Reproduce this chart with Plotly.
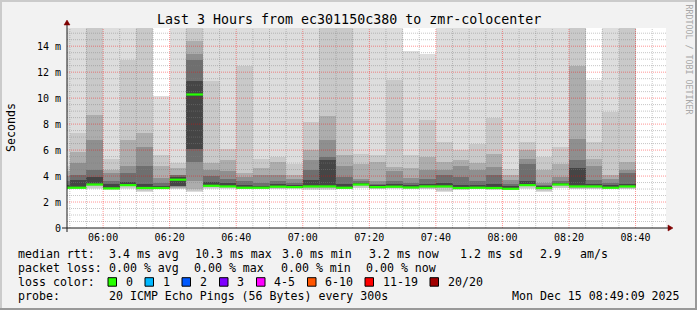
import pandas as pd
import plotly.graph_objects as go

DAY = "2025-12-15 "
T0, T1 = DAY + "05:49:09", DAY + "08:49:09"
Y_MAX = 15.4

# 5-minute RRD steps (end time of each step)
bar_end = ["05:50", "05:55", "06:00", "06:05", "06:10", "06:15", "06:20", "06:25", "06:30",
           "06:35", "06:40", "06:45", "06:50", "06:55", "07:00", "07:05", "07:10", "07:15",
           "07:20", "07:25", "07:30", "07:35", "07:40", "07:45", "07:50", "07:55", "08:00",
           "08:05", "08:10", "08:15", "08:20", "08:25", "08:30", "08:35", "08:40"]

# median rtt (ms)
median = [3.1, 3.1, 3.35, 3.05, 3.3, 3.08, 3.08, 3.72, 10.28, 3.25, 3.2, 3.1, 3.1, 3.18, 3.15,
          3.2, 3.2, 3.1, 3.35, 3.15, 3.18, 3.12, 3.2, 3.2, 3.08, 3.1, 3.08, 3.02, 3.3, 3.08,
          3.35, 3.2, 3.2, 3.1, 3.2]

# smoke bands (outer -> inner), upper edges (ms)
hi1 = [16, 16, 16, 16, 16, 16, 10.2, 16, 16, 16, 16, 16, 16, 16, 16, 16, 16, 16, 16, 16, 16,
       13.6, 13.4, 16, 16, 16, 16, 16, 16, 16, 16, 16, 11.36, 16, 16]
hi2 = [4.8, 7.33, 16, 5.3, 12.95, 16, 5.65, 5.0, 16, 11.3, 6.1, 12.5, 5.3, 5.45, 4.95, 8.15,
       16, 16, 5.7, 5.6, 11.36, 5.6, 8.3, 6.6, 5.97, 6.5, 8.48, 4.55, 6.6, 5.5, 6.2, 16, 6.6,
       8.9, 16]
hi3 = [4.4, 5.85, 8.73, 4.5, 6.8, 7.3, 4.75, 4.6, 14.4, 5.0, 5.2, 4.25, 4.6, 5.1, 4.1, 5.97,
       8.6, 5.6, 4.95, 5.05, 4.7, 4.6, 5.45, 5.05, 5.2, 5.0, 5.7, 4.05, 5.97, 4.45, 4.95, 12.5,
       5.3, 4.05, 5.1]
hi4 = [4.0, 5.02, 6.8, 4.2, 4.75, 6.25, 3.85, 4.1, 13.4, 4.5, 4.4, 3.9, 4.05, 4.05, 3.75, 5.2,
       6.74, 4.75, 3.8, 3.65, 4.4, 3.85, 4.45, 4.45, 4.8, 4.45, 4.7, 3.7, 5.3, 3.5, 3.9, 6.87,
       4.75, 3.8, 4.45]
hi5 = [3.6, 4.05, 4.5, 3.6, 4.2, 4.74, 3.46, 4.1, 12.9, 4.0, 3.8, 3.6, 3.5, 3.6, 3.45, 4.43,
       5.5, 3.9, 3.6, 3.4, 3.6, 3.45, 3.8, 4.05, 3.9, 3.65, 4.05, 3.4, 4.95, 3.3, 3.6, 5.2,
       3.7, 3.45, 4.2]
hi6 = [3.3, 3.66, 3.9, 3.35, 3.55, 3.35, 3.2, 3.9, 11.3, 3.55, 3.45, 3.3, 3.25, 3.35, 3.3,
       3.66, 5.2, 3.4, 3.45, 3.3, 3.35, 3.3, 3.4, 3.5, 3.3, 3.3, 3.4, 3.2, 3.6, 3.2, 3.45, 4.6,
       3.4, 3.3, 3.4]
# lower edges (ms)
lo1 = [2.97, 2.97, 3.0, 2.95, 3.0, 2.75, 2.97, 2.97, 2.75, 3.0, 3.0, 2.97, 2.97, 2.97, 3.0,
       2.9, 2.9, 2.97, 3.05, 2.97, 3.0, 2.97, 2.97, 2.77, 2.95, 2.97, 2.95, 2.9, 3.0, 2.77,
       3.05, 2.97, 2.97, 2.97, 2.97]
lo2 = [3.0, 3.0, 3.05, 2.98, 3.05, 2.85, 3.0, 3.0, 2.85, 3.05, 3.05, 3.0, 3.0, 3.02, 3.05,
       2.97, 2.97, 3.0, 3.1, 3.02, 3.05, 3.0, 3.02, 2.87, 2.98, 3.0, 2.98, 2.95, 3.05, 2.87,
       3.1, 3.02, 3.02, 3.0, 3.02]
lo3 = [3.05, 3.05, 3.25, 3.0, 3.2, 3.0, 3.03, 3.1, 3.0, 3.15, 3.12, 3.05, 3.05, 3.1, 3.1,
       3.1, 3.1, 3.05, 3.25, 3.1, 3.1, 3.05, 3.1, 3.05, 3.02, 3.05, 3.02, 2.98, 3.2, 3.0,
       3.25, 3.1, 3.1, 3.05, 3.1]
lo4 = [3.08, 3.08, 3.3, 3.03, 3.25, 3.04, 3.05, 3.15, 3.6, 3.2, 3.16, 3.08, 3.08, 3.14, 3.12,
       3.15, 3.15, 3.08, 3.3, 3.12, 3.14, 3.08, 3.15, 3.12, 3.05, 3.08, 3.05, 3.0, 3.25, 3.04,
       3.3, 3.15, 3.15, 3.08, 3.15]
lo5 = [3.1, 3.1, 3.33, 3.05, 3.28, 3.06, 3.07, 3.2, 5.05, 3.23, 3.18, 3.1, 3.1, 3.16, 3.14,
       3.18, 3.2, 3.1, 3.33, 3.14, 3.16, 3.1, 3.18, 3.16, 3.07, 3.1, 3.07, 3.02, 3.28, 3.06,
       3.33, 3.18, 3.18, 3.1, 3.18]
lo6 = [3.1, 3.1, 3.35, 3.05, 3.3, 3.08, 3.08, 3.25, 6.08, 3.25, 3.2, 3.1, 3.1, 3.18, 3.15,
       3.2, 3.2, 3.1, 3.35, 3.15, 3.18, 3.12, 3.2, 3.2, 3.08, 3.1, 3.08, 3.02, 3.3, 3.08,
       3.35, 3.2, 3.2, 3.1, 3.2]
smoke_colors = ["#dddddd", "#c9c9c9", "#adadad", "#8f8f8f", "#6f6f6f", "#454545"]

x_tick_labels = ["06:00", "06:20", "06:40", "07:00", "07:20", "07:40", "08:00", "08:20", "08:40"]
x_minor_times = ["05:50", "05:55", "06:05", "06:10", "06:15", "06:25", "06:30", "06:35",
                 "06:45", "06:50", "06:55", "07:05", "07:10", "07:15", "07:25", "07:30",
                 "07:35", "07:45", "07:50", "07:55", "08:05", "08:10", "08:15", "08:25",
                 "08:30", "08:35", "08:45"]
y_tick_vals = [0, 2, 4, 6, 8, 10, 12, 14]
y_tick_text = ["0", "2 m", "4 m", "6 m", "8 m", "10 m", "12 m", "14 m"]
y_major_grid = [2, 4, 6, 8, 10, 12, 14]
y_minor_grid = [v / 2 for v in range(1, 31) if v % 4 != 0]

loss_labels = ["0", "1", "2", "3", "4-5", "6-10", "11-19", "20/20"]
loss_colors = ["#26ff00", "#00b8ff", "#0059ff", "#7e00ff", "#ff00ff", "#ff5500", "#ff0000", "#a10000"]

# ---------------------------------------------------------------- layout geometry (px)
W, H = 697, 310
L, R, T, B = 67, 666, 28, 228
PW, PH = R - L, B - T


def px(x):
    return (x - L) / PW


def py(y):
    return (B - y) / PH


MONO = "DejaVu Sans Mono"

ends = pd.to_datetime([DAY + t for t in bar_end])
starts = ends - pd.Timedelta(minutes=5)
centers = ends - pd.Timedelta(seconds=150)

fig = go.Figure()

his = [hi1, hi2, hi3, hi4, hi5, hi6]
los = [lo1, lo2, lo3, lo4, lo5, lo6]
for hi, lo, col in zip(his, los, smoke_colors):
    fig.add_trace(go.Bar(
        x=centers, y=[h - l for h, l in zip(hi, lo)], base=lo, width=300000,
        marker=dict(color=col, line=dict(width=0)), hoverinfo="skip", showlegend=False))

# grid (drawn over the smoke, like rrdtool)
def hgrid(vals, color):
    xs, ys = [], []
    for v in vals:
        xs += [T0, T1, None]
        ys += [v, v, None]
    fig.add_trace(go.Scatter(x=xs, y=ys, mode="lines", hoverinfo="skip", showlegend=False,
                             line=dict(color=color, width=1, dash="1px,1px")))


def vgrid(times, color):
    xs, ys = [], []
    for t in times:
        xs += [DAY + t, DAY + t, None]
        ys += [0, Y_MAX, None]
    fig.add_trace(go.Scatter(x=xs, y=ys, mode="lines", hoverinfo="skip", showlegend=False,
                             line=dict(color=color, width=1, dash="1px,1px")))


GRID = "rgba(128,128,128,0.45)"
MGRID = "rgba(255,0,0,0.42)"
hgrid(y_minor_grid, GRID)
vgrid(x_minor_times, GRID)
hgrid(y_major_grid, MGRID)
vgrid(x_tick_labels, MGRID)

# median line segments
mx, my = [], []
for s, e, m in zip(starts, ends, median):
    mx += [s, e, None]
    my += [m, m, None]
fig.add_trace(go.Scatter(x=mx, y=my, mode="lines", hoverinfo="skip", showlegend=False,
                         line=dict(color=loss_colors[0], width=2.2)))

# ---------------------------------------------------------------- decorations
shapes = []
AX = "#1a1a1a"
# axes with arrows
shapes.append(dict(type="line", xref="paper", yref="paper", x0=px(62), x1=px(669), y0=py(228), y1=py(228),
                   line=dict(color=AX, width=1), layer="above"))
shapes.append(dict(type="line", xref="paper", yref="paper", x0=px(67), x1=px(67), y0=py(232), y1=py(24),
                   line=dict(color=AX, width=1), layer="above"))
shapes.append(dict(type="path", xref="paper", yref="paper", layer="above",
                   path=f"M{px(668)},{py(225)} L{px(673)},{py(228)} L{px(668)},{py(231)} Z",
                   fillcolor="#7f0000", line=dict(color="#7f0000", width=0.5)))
shapes.append(dict(type="path", xref="paper", yref="paper", layer="above",
                   path=f"M{px(64)},{py(25)} L{px(67)},{py(20)} L{px(70)},{py(25)} Z",
                   fillcolor="#7f0000", line=dict(color="#7f0000", width=0.5)))
# 3D frame
shapes.append(dict(type="rect", xref="paper", yref="paper", x0=px(0), x1=px(W), y0=py(0), y1=py(2),
                   fillcolor="#cbcbcb", line=dict(width=0), layer="above"))
shapes.append(dict(type="rect", xref="paper", yref="paper", x0=px(0), x1=px(2), y0=py(0), y1=py(H),
                   fillcolor="#cbcbcb", line=dict(width=0), layer="above"))
shapes.append(dict(type="rect", xref="paper", yref="paper", x0=px(0), x1=px(W), y0=py(H - 2), y1=py(H),
                   fillcolor="#999999", line=dict(width=0), layer="above"))
shapes.append(dict(type="rect", xref="paper", yref="paper", x0=px(W - 2), x1=px(W), y0=py(0), y1=py(H),
                   fillcolor="#999999", line=dict(width=0), layer="above"))

annotations = []


def txt(s, x, y, anchor="left", size=11.6, color="#000000", angle=0):
    annotations.append(dict(text=s, x=px(x), y=py(y), xref="paper", yref="paper", xanchor=anchor,
                            yanchor="middle", showarrow=False, textangle=angle,
                            font=dict(family=MONO, size=size, color=color)))


txt("Last 3 Hours from ec301150c380 to zmr-colocenter", 348.5, 19, anchor="center", size=13.3)
txt("Seconds", 11, 128, anchor="center", angle=-90)
txt("RRDTOOL / TOBI OETIKER", 688.5, 59, anchor="center", size=8.3, color="#a8a8a8", angle=90)

row1 = [("median rtt:", 16.4), ("3.4 ms avg", 107), ("10.3 ms max", 193), ("3.0 ms min", 280),
        ("3.2 ms now", 367), ("1.2 ms sd", 458), ("2.9", 538), ("am/s", 578)]
row2 = [("packet loss:", 16.4), ("0.00 % avg", 107), ("0.00 % max", 192), ("0.00 % min", 279),
        ("0.00 % now", 364)]
for s, x in row1:
    txt(s, x, 254)
for s, x in row2:
    txt(s, x, 268)
txt("loss color:", 16.4, 282)
box_x = [108, 145, 182, 219.5, 256.5, 307.5, 365, 430]
for bx, lab, col in zip(box_x, loss_labels, loss_colors):
    shapes.append(dict(type="rect", xref="paper", yref="paper", x0=px(bx), x1=px(bx + 8.5),
                       y0=py(286.2), y1=py(277.7), fillcolor=col, line=dict(color="#000000", width=1),
                       layer="above"))
    txt(lab, bx + 15.5, 282)
txt("probe:", 16.4, 296)
txt("20 ICMP Echo Pings (56 Bytes) every 300s", 107, 296)
txt("Mon Dec 15 08:49:09 2025", 682, 296, anchor="right")

fig.update_layout(
    width=W, height=H, autosize=False,
    margin=dict(l=L, r=W - R, t=T, b=H - B, pad=0),
    paper_bgcolor="#f2f2f2", plot_bgcolor="#ffffff",
    barmode="overlay", bargap=0,
    showlegend=False,
    shapes=shapes, annotations=annotations,
    xaxis=dict(type="date", range=[T0, T1], tickvals=[DAY + t for t in x_tick_labels],
               ticktext=x_tick_labels, showgrid=False, zeroline=False, showline=False,
               ticks="", ticklabelstandoff=2,
               tickfont=dict(family=MONO, size=10, color="#000000"), fixedrange=True),
    yaxis=dict(range=[0, Y_MAX], tickvals=y_tick_vals, ticktext=y_tick_text, showgrid=False,
               zeroline=False, showline=False, ticks="", ticklabelstandoff=5,
               tickfont=dict(family=MONO, size=10, color="#000000"), fixedrange=True),
)

fig.write_html("out.html", config={"displayModeBar": False})
